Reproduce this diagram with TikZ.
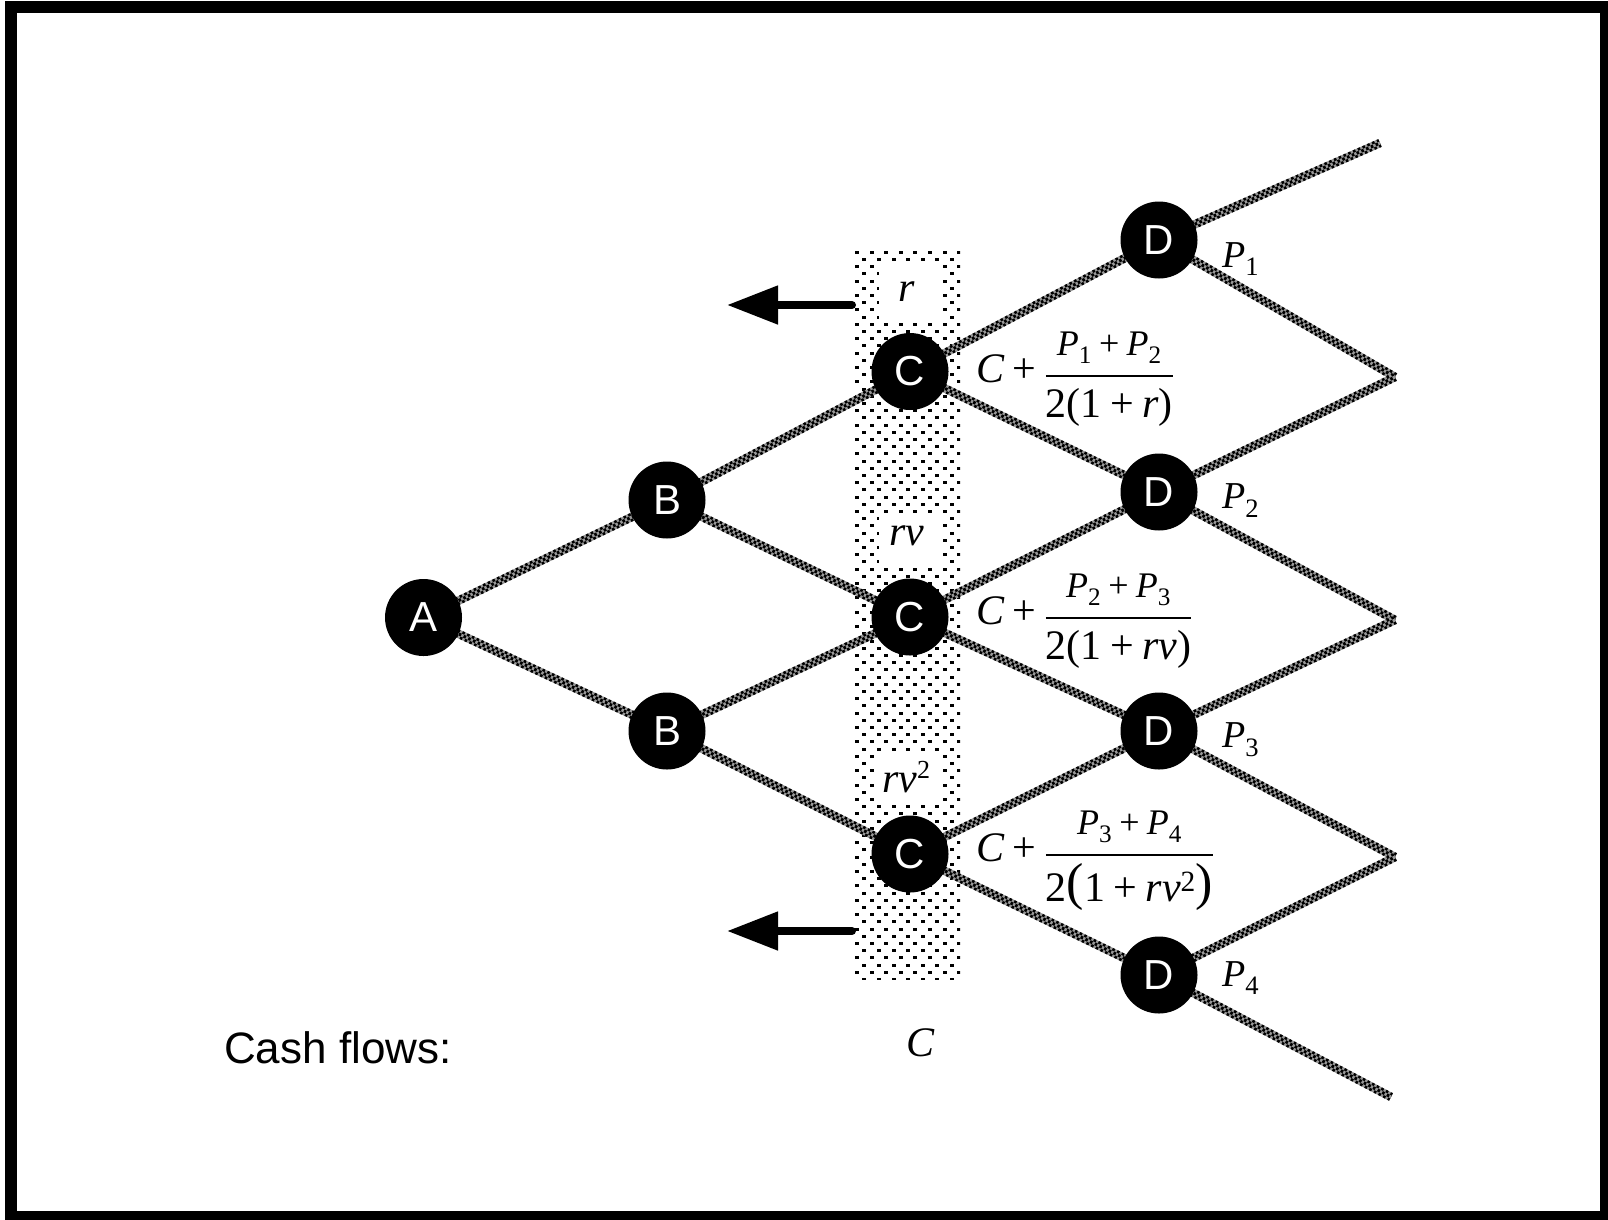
\documentclass[tikz,border=0pt]{standalone}
\usepackage{amsmath}
\usepackage{fontspec}
\setmainfont{Liberation Serif}
\setsansfont{Liberation Sans}
\usetikzlibrary{arrows.meta}

% serif letters and signs inside formulas
\newcommand{\mv}[1]{\text{\itshape #1}}
\newcommand{\tx}[1]{\text{\upshape #1}}
\newcommand{\pl}{\tx{\hspace{0.2em}+\hspace{0.2em}}}
\newcommand{\npl}{\upshape\hspace{0.2em}+\hspace{0.2em}\itshape}
\newcommand{\bigparen}[1]{\text{\raisebox{2pt}{\fontsize{52}{58}\selectfont #1}}}
% fraction with a heavier rule and wider gaps
\newcommand{\valfrac}[2]{\genfrac{}{}{2.4pt}{0}%
  {\text{\fontsize{36}{42}\selectfont\itshape #1}\rule[-12pt]{0pt}{12pt}}%
  {\rule{0pt}{33pt}#2}}

\tikzset{
  vtx/.style={circle, fill=black, minimum size=77pt, inner sep=0pt,
    text=white, font=\sffamily\fontsize{42}{50}\selectfont},
  treeline/.style={line width=8.5pt, black, dash pattern=on 2.6pt off 2.6pt,
    preaction={draw, black!40, solid, line width=8.5pt},
    postaction={draw, black!40, solid, line width=3pt},
    postaction={draw, black, line width=3pt, dash pattern=on 2.6pt off 2.6pt, dash phase=2.6pt}},
  mathlbl/.style={inner sep=0pt, font=\fontsize{42}{50}\selectfont},
  plbl/.style={inner sep=0pt, font=\fontsize{38}{46}\selectfont},
  ratebox/.style={fill=white},
  flowarrow/.style={line width=8pt, line cap=round, -{Triangle[length=51pt,width=37pt]}},
}

\begin{document}
\begin{tikzpicture}[x=1pt, y=-1pt]
\useasboundingbox (0,0) rectangle (1608,1219);
\fill[white] (0,0) rectangle (1608,1219);
\draw[line width=12pt] (11,7) rectangle (1606,1217);

% dotted time column
\begin{scope}
  \clip (855,250) rectangle (960,979);
  \foreach \j in {0,...,101} {
    \foreach \i in {0,...,7} {
      \fill ({855+\i*14.6+mod(\j,2)*7.3}, {250.7+\j*7.2}) rectangle ++(4,3);
    }
  }
\end{scope}
\fill[ratebox] (879,264) rectangle (939,321);
\fill[ratebox] (879,515) rectangle (939,563);
\fill[ratebox] (877,752) rectangle (940,803);
\node[mathlbl] (rlab) at (907,292) {\itshape r};
\node[mathlbl] (rvlab) at (907,536) {\itshape rv};
\node[mathlbl] (rvvlab) at (906,777) {\itshape rv\raisebox{14pt}{\upshape\fontsize{26}{30}\selectfont 2}};

% lattice points
\coordinate (A) at (423.5,617.5);
\coordinate (B1) at (667,500);
\coordinate (B2) at (667,731);
\coordinate (C1) at (910,371.5);
\coordinate (C2) at (910,617);
\coordinate (C3) at (910,854);
\coordinate (D1) at (1159,240);
\coordinate (D2) at (1159,492);
\coordinate (D3) at (1159,731);
\coordinate (D4) at (1159,975);
\coordinate (E0) at (1380,143);
\coordinate (E1) at (1395,377);
\coordinate (E2) at (1395,620);
\coordinate (E3) at (1395,857);
\coordinate (E4) at (1391,1097);

% branches
\foreach \a/\b in {A/B1, A/B2, B1/C1, B1/C2, B2/C2, B2/C3,
  C1/D1, C1/D2, C2/D2, C2/D3, C3/D3, C3/D4,
  D1/E0, D1/E1, E1/D2, D2/E2, E2/D3, D3/E3, E3/D4, D4/E4}
  \draw[treeline] (\a) -- (\b);

% nodes
\node[vtx] (nA) at (A) {A};
\node[vtx] (nB1) at (B1) {B};
\node[vtx] (nB2) at (B2) {B};
\node[vtx] (nC1) at (C1) {C};
\node[vtx] (nC2) at (C2) {C};
\node[vtx] (nC3) at (C3) {C};
\node[vtx] (nD1) at (D1) {D};
\node[vtx] (nD2) at (D2) {D};
\node[vtx] (nD3) at (D3) {D};
\node[vtx] (nD4) at (D4) {D};

% payoffs
\node[plbl, anchor=base west] (p1) at (1222,267) {$\mv{P}_{\tx{1}}$};
\node[plbl, anchor=base west] (p2) at (1222,508) {$\mv{P}_{\tx{2}}$};
\node[plbl, anchor=base west] (p3) at (1222,747) {$\mv{P}_{\tx{3}}$};
\node[plbl, anchor=base west] (p4) at (1222,986) {$\mv{P}_{\tx{4}}$};

% node values
\node[mathlbl, anchor=base west] (v1) at (976,382)
  {$\mv{C}\pl\valfrac{P$_{\tx{1}}$\npl P$_{\tx{2}}$}{\tx{2(1}\pl\mv{r}\tx{)}}$};
\node[mathlbl, anchor=base west] (v2) at (976,624)
  {$\mv{C}\pl\valfrac{P$_{\tx{2}}$\npl P$_{\tx{3}}$}{\tx{2(1}\pl\mv{rv}\tx{)}}$};
\node[mathlbl, anchor=base west] (v3) at (976,861)
  {$\mv{C}\pl\valfrac{P$_{\tx{3}}$\npl P$_{\tx{4}}$}{\tx{2}\bigparen{(}\tx{1}\pl\mv{rv}^{\tx{2}}\bigparen{)}}$};

% arrows
\coordinate (a1s) at (852,305);
\coordinate (a1e) at (727,305);
\coordinate (a2s) at (852,931);
\coordinate (a2e) at (727,931);
\draw[flowarrow] (a1s) -- (a1e);
\draw[flowarrow] (a2s) -- (a2e);

% cash flows row
\node[anchor=base west, inner sep=0pt, font=\sffamily\fontsize{44}{52}\selectfont] (cf) at (224,1063) {Cash flows:};
\node[mathlbl] (cc) at (920,1043) {\itshape C};
\end{tikzpicture}
\end{document}
